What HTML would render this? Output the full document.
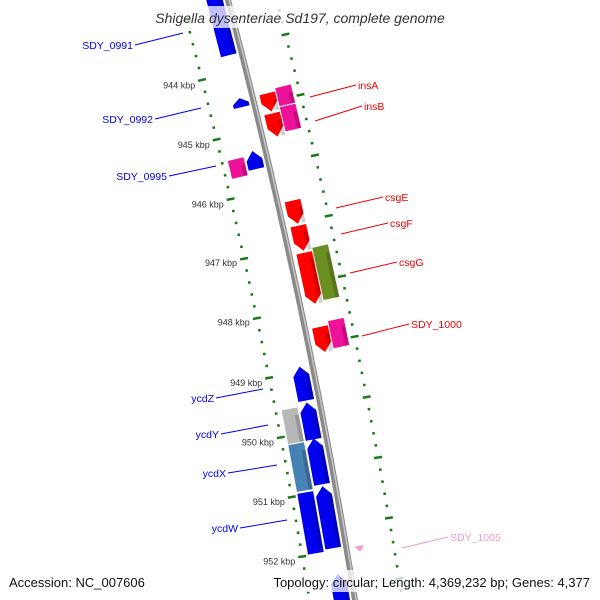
<!DOCTYPE html>
<html><head><meta charset="utf-8"><style>
body{margin:0;background:#fff}
svg{display:block;font-family:"Liberation Sans","DejaVu Sans",sans-serif}
</style></head><body>
<svg id="map" width="600" height="600" viewBox="0 0 600 600" xmlns="http://www.w3.org/2000/svg">
<g id="rulers"></g>
<g id="backbone"></g>
<g id="genes"></g>
<g id="labels"></g>
<rect x="140" y="6" width="320" height="22" fill="#fff" opacity="0.75"/>
<text x="300" y="23" text-anchor="middle" font-size="14" font-style="italic" fill="#333">Shigella dysenteriae Sd197, complete genome</text>
<rect x="0" y="570" width="600" height="22" fill="#fff" opacity="0.75"/>
<text x="9" y="587" font-size="13" fill="#111">Accession: NC_007606</text>
<text x="590" y="587" font-size="13" text-anchor="end" fill="#111">Topology: circular; Length: 4,369,232 bp; Genes: 4,377</text>
</svg>
<script>
// Genes: position start/end (along backbone), lane offset, color, arrow direction
const geneStart = [-20, 95, 148, 364, 400, 436, 484, 572, 152, 403, 438, 487, 97, 117, 204, 229, 256, 330, 94, 113, 253, 326];
const geneEnd   = [52, 104, 166, 398, 437, 482, 546, 620, 170, 437, 485, 548, 115, 140, 227, 254, 307, 355, 112, 137, 305, 353];
const geneLane  = [-13,-13,-13,-13,-13,-13,-13,-13,-31,-31,-31,-31, 15, 15, 15, 15, 15, 15, 32, 32, 32, 32];
const geneColor = ["#0000ee","#0000ee","#0000ee","#0000ee","#0000ee","#0000ee","#0000ee","#0000ee","#ee1199","#b8b8b8","#4682b4","#0000ee","#ff0000","#ff0000","#ff0000","#ff0000","#ff0000","#ff0000","#ee1199","#ee1199","#6b8e23","#ee1199"];
const geneDir   = ["up","up","up","up","up","up","up","up","none","none","none","none","down","down","down","down","down","down","none","none","none","none"];
// Labels
const labelText = ["SDY_0991","SDY_0992","SDY_0995","ycdZ","ycdY","ycdX","ycdW","insA","insB","csgE","csgF","csgG","SDY_1000","SDY_1005"];
const labelX    = [133,153,167,214,219,226,238,358,364,385,390,399,411,450];
const labelY    = [49,123,180,402,438,477,532,89,110,201,227,266,328,541];
const labelSide = ["L","L","L","L","L","L","L","R","R","R","R","R","R","R"];
const labelColor= ["#0000ee","#0000ee","#0000ee","#0000ee","#0000ee","#0000ee","#0000ee","#ee0000","#ee0000","#ee0000","#ee0000","#ee0000","#ee0000","#f09cc8"];
const leaderX2  = [183,201,216,263,268,277,287,310,315,336,341,350,362,402];
const leaderY2  = [33,108,166,389,425,465,520,97,121,208,234,273,336,548];
// Ruler tick labels
const kbpLabels = ["944 kbp","945 kbp","946 kbp","947 kbp","948 kbp","949 kbp","950 kbp","951 kbp","952 kbp"];
const kbpPos    = [69,129,189,248,308,369,429,489,549];

const NS="http://www.w3.org/2000/svg";
const A=0.2617,B=-8.33e-5;
function bx(s){return 228+A*s+B*s*s;}
function P(s,d){const m=A+2*B*s,n=Math.sqrt(1+m*m);return [bx(s)+d/n, s-d*m/n];}
function mk(tag,parent,attrs){const e=document.createElementNS(NS,tag);for(const k in attrs)e.setAttribute(k,attrs[k]);parent.appendChild(e);return e;}
function pts(a){return a.map(p=>p[0].toFixed(1)+","+p[1].toFixed(1)).join(" ");}

// backbone
const bb=document.getElementById('backbone');
let bp=[];for(let s=-10;s<=610;s+=10)bp.push(P(s,0));
const bl=mk('polyline',bb,{points:pts(bp),fill:'none',stroke:'#8a8a8a','stroke-width':6});


const bl2=mk('polyline',bb,{points:pts(bp.map(p=>[p[0]+1.2,p[1]])),fill:'none',stroke:'#c8c8c8','stroke-width':1.5});



// rulers
const rg=document.getElementById('rulers');
for(let s=9;s<600;s+=12){
  const left=((s-9)%60===0);
  const c=P(s,-45);
  const len=left?4:1.3;
  const a=P(s-0.1,-45-len),b=P(s+0.1,-45+len);
  const t=mk('line',rg,{x1:a[0],y1:a[1],x2:b[0],y2:b[1],stroke:'#1a7a1a','stroke-width':2.5});
  
  
}
for(let s=-2;s<600;s+=12){
  const maj=((s-46+120)%60===0);
  const len=maj?4:1.3;
  const a=P(s-0.1,47-len),b=P(s+0.1,47+len);
  const t=mk('line',rg,{x1:a[0],y1:a[1],x2:b[0],y2:b[1],stroke:'#1a7a1a','stroke-width':2.5});
  
  
}
kbpLabels.forEach((l,i)=>{
  const p=P(kbpPos[i],-52);
  const t=mk('text',rg,{x:p[0],y:p[1]+7,'text-anchor':'end','font-size':9,fill:'#333'});
  t.textContent=l;
  
  
});

// genes
const gg=document.getElementById('genes');
geneStart.forEach((s1,i)=>{
  const s2=geneEnd[i],c=geneLane[i],w=8,h=Math.min(9,(s2-s1)*0.6);
  let poly;
  if(geneDir[i]==='up') poly=[P(s2,c-w),P(s1+h,c-w),P(s1,c),P(s1+h,c+w),P(s2,c+w)];
  else if(geneDir[i]==='down') poly=[P(s1,c-w),P(s2-h,c-w),P(s2,c),P(s2-h,c+w),P(s1,c+w)];
  else poly=[P(s1,c-w),P(s2,c-w),P(s2,c+w),P(s1,c+w)];
  const g=mk('polygon',gg,{points:pts(poly),fill:geneColor[i]});
  
  
  const sh=[P(s1+h*0.8,c+w-4),P(s2,c+w-4),P(s2,c+w),P(s1+h*0.8,c+w)];
  const d=mk('polygon',gg,{points:pts(sh),fill:'#000',opacity:0.18});
  
  
});
// small pink SDY_1005 marker
const tri=mk('polygon',gg,{points:pts([P(548,8),P(548,18),P(554,13)]),fill:'#f09cc8'});



// labels
const lg=document.getElementById('labels');
labelText.forEach((t,i)=>{
  const L=labelSide[i]==='L';
  const tx=mk('text',lg,{x:labelX[i],y:labelY[i],'text-anchor':L?'end':'start','font-size':10.5,fill:labelColor[i]});
  tx.textContent=t;
  
  
  const x1=L?labelX[i]+2:labelX[i]-2,y1=labelY[i]-4;
  const ln=mk('line',lg,{x1:x1,y1:y1,x2:leaderX2[i],y2:leaderY2[i],stroke:labelColor[i],'stroke-width':1});
  
  
});
</script>
</body></html>
